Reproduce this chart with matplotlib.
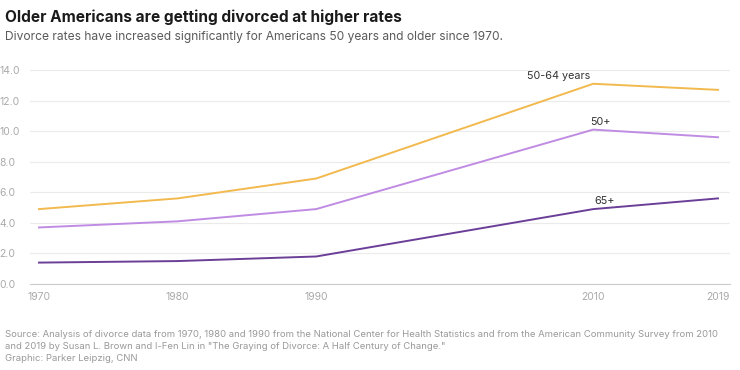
import matplotlib
matplotlib.use("Agg")
import matplotlib.pyplot as plt

years = [1970, 1980, 1990, 2010, 2019]
rate_50_64 = [4.9, 5.6, 6.9, 13.1, 12.7]
rate_50_plus = [3.7, 4.1, 4.9, 10.1, 9.6]
rate_65_plus = [1.4, 1.5, 1.8, 4.9, 5.6]
y_ticks = [0, 2, 4, 6, 8, 10, 12, 14]
series_labels = ["50-64 years", "50+", "65+"]

plt.rcParams['font.family'] = ['Inter', 'DejaVu Sans']

fig = plt.figure(figsize=(7.4, 3.7), dpi=100)
ax = fig.add_axes([30/740, 1-284/370, 700/740, 214/370])

c_orange = "#f2b94f"
c_light = "#c08ce3"
c_dark = "#6b3f98"

ax.plot(years, rate_50_64, color=c_orange, lw=1.4, zorder=3)
ax.plot(years, rate_50_plus, color=c_light, lw=1.4, zorder=3)
ax.plot(years, rate_65_plus, color=c_dark, lw=1.4, zorder=3)

ax.set_xlim(1970 - 9/13.86, 2019 + 12/13.86)
ax.set_ylim(0, 14)
ax.set_yticks(y_ticks)
ax.set_yticklabels([f"{v:.1f}" for v in y_ticks])
ax.set_xticks(years)
ax.set_xticklabels([str(y) for y in years])
ax.grid(axis='y', color="#ebebeb", lw=0.8)
ax.set_axisbelow(True)
for s in ["top", "right", "left"]:
    ax.spines[s].set_visible(False)
ax.spines["bottom"].set_color("#cccccc")
ax.tick_params(axis='both', length=0, colors="#aaaaaa", labelsize=7.5)
ax.tick_params(axis='y', pad=4)
ax.tick_params(axis='x', pad=6)
for lbl in ax.get_yticklabels():
    lbl.set_horizontalalignment('left')
    lbl.set_x(-25/700)

# series labels
ax.annotate(series_labels[0], (2010, rate_50_64[3]), xytext=(-2, 2), textcoords='offset points',
            ha='right', va='bottom', fontsize=7.8, color="#333333")
ax.annotate(series_labels[1], (2010, rate_50_plus[3]), xytext=(-2, 2), textcoords='offset points',
            ha='left', va='bottom', fontsize=7.8, color="#333333")
ax.annotate(series_labels[2], (2010, rate_65_plus[3]), xytext=(1, 2), textcoords='offset points',
            ha='left', va='bottom', fontsize=7.8, color="#333333")

fig.text(5/740, 1-22/370, "Older Americans are getting divorced at higher rates",
         fontsize=11.1, fontweight='bold', color="#1a1a1a", va='baseline')
fig.text(5/740, 1-40/370, "Divorce rates have increased significantly for Americans 50 years and older since 1970.",
         fontsize=8.65, color="#5a5a5a", va='baseline')
source = ("Source: Analysis of divorce data from 1970, 1980 and 1990 from the National Center for Health Statistics and from the American Community Survey from 2010\n"
          "and 2019 by Susan L. Brown and I-Fen Lin in \"The Graying of Divorce: A Half Century of Change.\"\n"
          "Graphic: Parker Leipzig, CNN")
fig.text(5/740, 1-330/370, source, fontsize=6.85, color="#999999", va='top', linespacing=1.45)

fig.savefig("out.png", dpi=100, facecolor="white")
